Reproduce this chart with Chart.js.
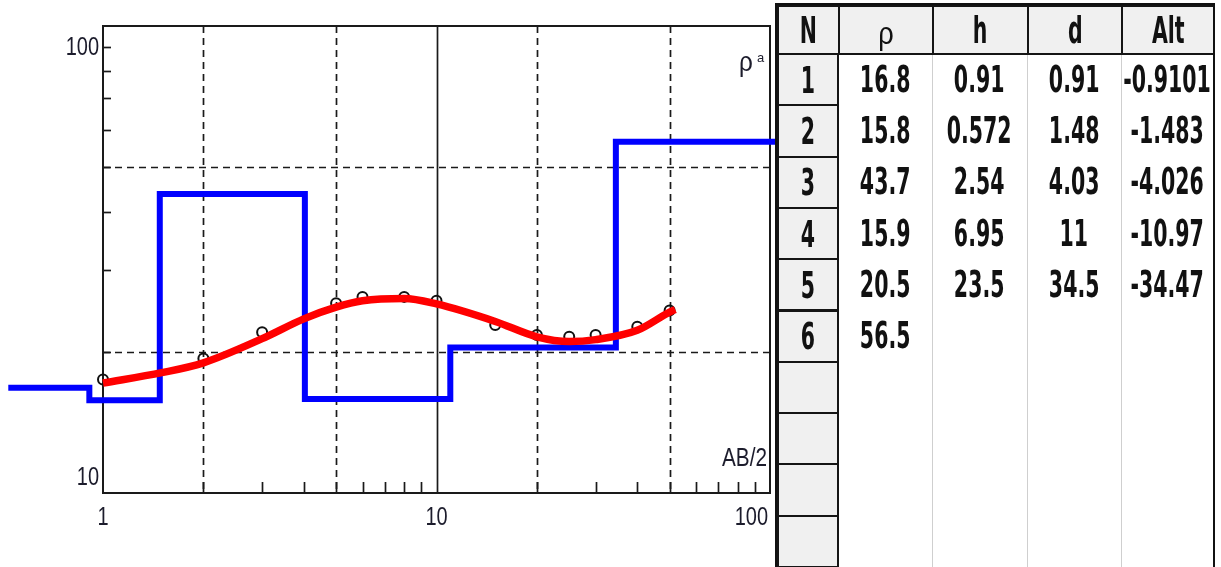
<!DOCTYPE html>
<html>
<head>
<meta charset="utf-8">
<script src="https://cdn.jsdelivr.net/npm/chart.js@4.4.1/dist/chart.umd.min.js"></script>
<style>
  html, body { margin: 0; padding: 0; background: #fff; }
  #wrap { position: absolute; left: 0; top: 0; width: 777px; height: 567px; }
  #table { position: absolute; left: 0; top: 0; width: 1221px; height: 567px; pointer-events: none; }
  .cell { position: absolute; box-sizing: border-box; display: flex; align-items: center; justify-content: center;
          font-family: "DejaVu Sans Condensed", "DejaVu Sans", sans-serif;
          font-weight: bold; font-size: 38px; color: #111; overflow: visible; white-space: nowrap; }
  .cell span { display: inline-block; transform: scaleX(0.6); }
  .btn { background: #f0f0f0; border: 2px solid #151515; }
  .data { background: #fff; border-left: 1px solid #cfcfcf; }
  .greek { font-family: "Liberation Sans", sans-serif; font-weight: normal; }
  .greek span { transform: scaleX(0.85) translateY(3px); }
</style>
</head>
<body>
<div id="wrap"><canvas id="vesChart"></canvas></div>
<div id="table"></div>
<script>
// sounding curve - AB/2 (m) and apparent resistivity
const abHalf = [1, 2, 3, 5, 6, 8, 10, 15, 20, 25, 30, 40, 50];
const rhoObserved = [17.5, 19.4, 22.1, 25.5, 26.3, 26.3, 25.8, 22.9, 21.8, 21.6, 21.8, 22.7, 24.6];

// calculated curve of the model
const abCalc = [1, 1.5, 2, 3, 4, 5, 6, 8, 10, 15, 20, 25, 30, 40, 50, 52];
const rhoCalc = [17.2, 18.1, 19.0, 21.4, 23.6, 25.0, 25.8, 26.1, 25.4, 23.3, 21.6, 21.1, 21.3, 22.3, 24.4, 24.7];

// layer model
const layerNo = [1, 2, 3, 4, 5, 6];
const layerRho = [16.8, 15.8, 43.7, 15.9, 20.5, 56.5];
const layerH = [0.91, 0.572, 2.54, 6.95, 23.5];
const layerD = [0.91, 1.48, 4.03, 11, 34.5];
const layerAlt = [-0.9101, -1.483, -4.026, -10.97, -34.47];
const modelStart = 0.52;
const modelEnd = 110;

// axes
const gridX = [2, 5, 20, 50];
const solidX = [10];
const minorX = [3, 4, 6, 7, 8, 9, 30, 40, 60, 70, 80, 90];
const gridY = [20, 50];
const minorY = [30, 40, 60, 70, 80, 90];
const xTickLabels = ['1', '10', '100'];
const yTickLabels = ['100', '10'];
const tableHeaders = ['N', 'ρ', 'h', 'd', 'Alt'];

// corners of the model step line (listed right to left so no point is trimmed)
const bounds = [modelStart].concat(layerD, [modelEnd]);
const modelPts = [];
layerRho.forEach((r, i) => {
  modelPts.push({ x: bounds[i], y: r });
  modelPts.push({ x: bounds[i + 1], y: r });
});
modelPts.reverse();

const axisFont = '25px "Liberation Sans", "Arial", sans-serif';

function narrowText(ctx, text, x, y, align, sx) {
  ctx.save();
  ctx.translate(x, y);
  ctx.scale(sx, 1);
  ctx.textAlign = align;
  ctx.fillText(text, 0, 0);
  ctx.restore();
}

const frame = {
  id: 'frame',
  beforeDatasetsDraw(chart) {
    const { ctx, chartArea: a, scales: { x, y } } = chart;
    const line = (x1, y1, x2, y2) => { ctx.beginPath(); ctx.moveTo(x1, y1); ctx.lineTo(x2, y2); ctx.stroke(); };
    ctx.save();
    ctx.strokeStyle = '#1a1a1a';
    ctx.lineWidth = 1.7;
    ctx.setLineDash([7, 5]);
    gridX.forEach(v => { const p = Math.round(x.getPixelForValue(v)) + 0.5; line(p, a.top, p, a.bottom); });
    gridY.forEach(v => { const p = Math.round(y.getPixelForValue(v)) + 0.5; line(a.left, p, a.right, p); });
    ctx.setLineDash([]);
    solidX.forEach(v => { const p = Math.round(x.getPixelForValue(v)) + 0.5; line(p, a.top, p, a.bottom); });
    minorX.concat(gridX).forEach(v => { const p = Math.round(x.getPixelForValue(v)) + 0.5; line(p, a.bottom, p, a.bottom - 11); });
    minorY.concat(gridY).forEach(v => { const p = Math.round(y.getPixelForValue(v)) + 0.5; line(a.left, p, a.left + 8, p); });
    ctx.lineWidth = 2;
    ctx.strokeRect(a.left, a.top, a.right - a.left, a.bottom - a.top);

    // tick labels
    ctx.fillStyle = '#1c1c2c';
    ctx.font = axisFont;
    ctx.textBaseline = 'middle';
    narrowText(ctx, yTickLabels[0], a.left - 4, a.top + 22, 'right', 0.8);
    narrowText(ctx, yTickLabels[1], a.left - 4, a.bottom - 15, 'right', 0.8);
    narrowText(ctx, xTickLabels[0], x.getPixelForValue(1), a.bottom + 25, 'center', 0.8);
    narrowText(ctx, xTickLabels[1], x.getPixelForValue(10), a.bottom + 25, 'center', 0.8);
    narrowText(ctx, xTickLabels[2], a.right - 2, a.bottom + 25, 'right', 0.8);

    // axis names
    narrowText(ctx, 'AB/2', a.right - 3, a.bottom - 34, 'right', 0.83);
    ctx.font = '27px "Liberation Sans", sans-serif';
    narrowText(ctx, 'ρ', a.right - 31, a.top + 38, 'left', 0.9);
    ctx.font = '13px "Liberation Sans", sans-serif';
    narrowText(ctx, 'a', a.right - 13, a.top + 32, 'left', 1);
    ctx.restore();
  }
};

new Chart(document.getElementById('vesChart'), {
  type: 'line',
  data: {
    datasets: [
      {
        label: 'calculated',
        data: abCalc.map((v, i) => ({ x: v, y: rhoCalc[i] })),
        borderColor: '#ff0000',
        borderWidth: 7.5,
        cubicInterpolationMode: 'monotone',
        pointRadius: 0,
        fill: false,
        clip: false,
        order: 0
      },
      {
        label: 'observed',
        data: abHalf.map((v, i) => ({ x: v, y: rhoObserved[i] })),
        showLine: false,
        pointStyle: 'circle',
        pointRadius: 5,
        pointBorderWidth: 2,
        pointBorderColor: '#111',
        pointBackgroundColor: 'rgba(0,0,0,0)',
        clip: false,
        order: 1
      },
      {
        label: 'model',
        data: modelPts,
        borderColor: '#0000ff',
        borderWidth: 6,
        borderJoinStyle: 'miter',
        pointRadius: 0,
        fill: false,
        clip: false,
        order: 2
      }
    ]
  },
  options: {
    responsive: true,
    maintainAspectRatio: false,
    animation: false,
    layout: { padding: { left: 103, top: 26, right: 6, bottom: 74 } },
    scales: {
      x: { type: 'logarithmic', min: 1, max: 100, display: false },
      y: { type: 'logarithmic', min: 10, max: 100, display: false }
    },
    plugins: { legend: { display: false }, tooltip: { enabled: false } }
  },
  plugins: [frame]
});

// layer table
const colEdges = [777, 838, 932, 1027, 1121, 1213];
const headTop = 5, headBottom = 53, rowH = 51.3, rowCount = 11;
const tbl = document.getElementById('table');
function cell(cls, left, top, w, h, text, size) {
  const d = document.createElement('div');
  d.className = 'cell ' + cls;
  d.style.left = left + 'px'; d.style.top = top + 'px';
  d.style.width = w + 'px'; d.style.height = h + 'px';
  if (size) d.style.fontSize = size;
  if (text !== '') { const s = document.createElement('span'); s.textContent = text; d.appendChild(s); }
  tbl.appendChild(d);
}
// data area background
const bodyH = 567 - headBottom;
for (let c = 1; c < 5; c++) {
  cell('data', colEdges[c], headBottom, colEdges[c + 1] - colEdges[c], bodyH, '');
}
const cols = [layerRho, layerH, layerD, layerAlt];
for (let r = 0; r < rowCount; r++) {
  const top = headBottom + r * rowH;
  cell('btn', colEdges[0], top, colEdges[1] - colEdges[0] + 1, rowH + 2, r < layerNo.length ? String(layerNo[r]) : '');
  cols.forEach((col, c) => {
    if (r < col.length) cell('', colEdges[c + 1], top, colEdges[c + 2] - colEdges[c + 1], rowH, String(col[r]));
  });
}
tableHeaders.forEach((t, c) => {
  cell(c === 1 ? 'btn greek' : 'btn', colEdges[c], headTop, colEdges[c + 1] - colEdges[c] + 2, headBottom - headTop + 2, t, c === 1 ? '32px' : null);
});
// outer frame
const fr = document.createElement('div');
fr.style.cssText = 'position:absolute;left:775px;top:3px;width:440px;height:570px;border:2px solid #111;border-bottom:none;box-sizing:border-box;';
tbl.appendChild(fr);
</script>
</body>
</html>
